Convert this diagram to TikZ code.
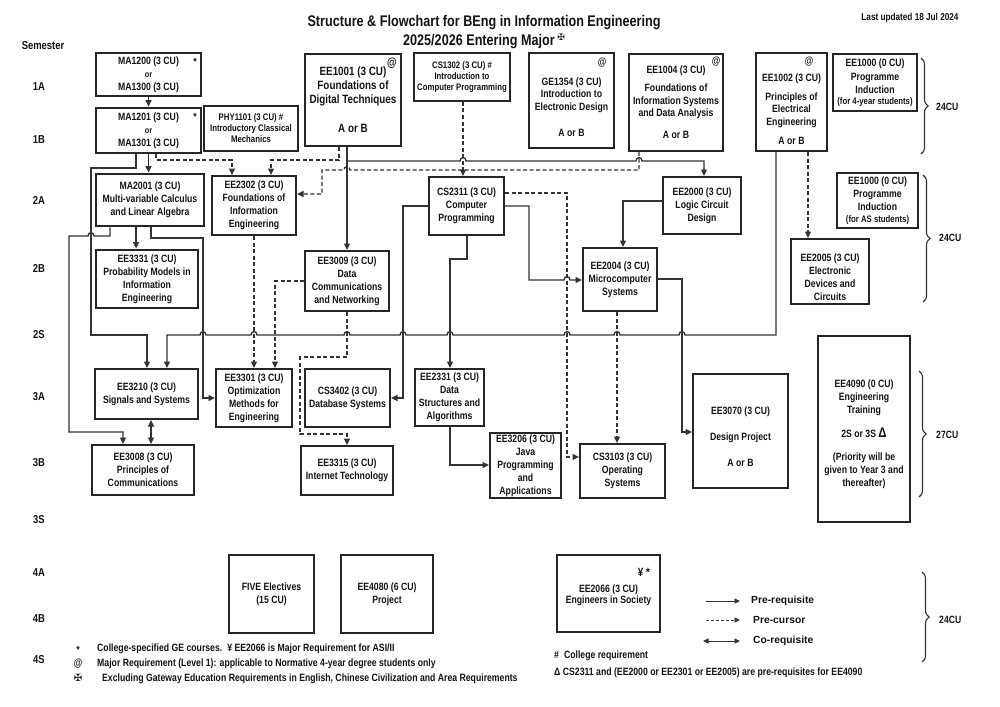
\documentclass[tikz,border=0pt]{standalone}
\usepackage{fontspec}
\setmainfont{Liberation Sans}[FakeStretch=0.82]
\newfontfamily\wfont{Liberation Sans}
\newfontfamily\dejafont{DejaVu Sans}
\usetikzlibrary{arrows.meta,decorations.pathreplacing}
\definecolor{boxc}{HTML}{262626}
\definecolor{linec}{HTML}{333333}
\definecolor{txtc}{HTML}{141414}
\newcommand\bxfont{\bfseries\fontsize{10.6}{13}\selectfont}
\newcommand\bigbx{\bfseries\fontsize{12}{14}\selectfont}
\newcommand\smfont{\bfseries\fontsize{9.5}{11}\selectfont}
\newcommand\orfont{\fontsize{8.8}{11}\selectfont}
\newcommand\semfont{\bfseries\fontsize{11.5}{13}\selectfont}
\newcommand\fnfont{\bfseries\fontsize{10.6}{13}\selectfont}
\newcommand\lgfont{\wfont\bfseries\fontsize{10.3}{12}\selectfont}
\newcommand\ttlfont{\bfseries\fontsize{15.4}{19}\selectfont}
\newcommand\updfont{\bfseries\fontsize{10}{12}\selectfont}
\newcommand\cufont{\bfseries\fontsize{10.5}{12}\selectfont}
\newcommand\mkbox[7][]{\node[bx,#1,minimum width={(#5-#3)*1pt},minimum height={(#6-#4)*1pt}] (#2) at ({(#3+#5)/2},{(#4+#6)/2}) {#7};}
\tikzset{
  bx/.style={draw=boxc, line width=2pt, inner sep=0pt, align=center, font=\bxfont, text=txtc},
  thk/.style={line width=2.8pt},
  ln/.style={draw=linec, line width=1.35pt},
  dsh/.style={dash pattern=on 4pt off 2.5pt},
  arr/.style={-{Triangle[length=6.5pt,width=6pt]}},
  darr/.style={{Triangle[length=6.5pt,width=6pt]}-{Triangle[length=6.5pt,width=6pt]}},
  sem/.style={font=\semfont, text=txtc, inner sep=0pt},
  mk/.style={font=\bxfont, text=txtc, inner sep=0pt},
  fn/.style={font=\fnfont, text=txtc, inner sep=0pt, anchor=west},
  lgl/.style={draw=linec, line width=0.9pt},
  lgarr/.style={-{Triangle[length=5.5pt,width=5pt]}},
  lgdarr/.style={{Triangle[length=5.5pt,width=5pt]}-{Triangle[length=5.5pt,width=5pt]}},
  lgt/.style={font=\lgfont, text=txtc, inner sep=0pt, anchor=west},
  brc/.style={draw=linec, line width=1.1pt, decorate, decoration={brace, amplitude=7pt}},
  cu/.style={font=\cufont, text=txtc, inner sep=0pt, anchor=west},
  hopR/.style args={#1/#2}{insert path={-- ({#1-3},#2) .. controls ({#1-3},{#2-4.5}) and ({#1+3},{#2-4.5}) .. ({#1+3},#2)}},
  hopL/.style args={#1/#2}{insert path={-- ({#1+3},#2) .. controls ({#1+3},{#2-4.5}) and ({#1-3},{#2-4.5}) .. ({#1-3},#2)}},
}
\begin{document}
\begin{tikzpicture}[x=1pt,y=-1pt]
\useasboundingbox (0,0) rectangle (1000,706);
\fill[white] (0,0) rectangle (1000,706);

% title
\node[font=\ttlfont, text=txtc, align=center, inner sep=0pt] (title) at (484,32)
  {Structure \& Flowchart for BEng in Information Engineering\\2025/2026 Entering Major\,\raisebox{5pt}{\dejafont\fontsize{9}{9}\selectfont ✠}};
\node[font=\updfont, text=txtc, inner sep=0pt] (upd) at (910,18) {Last updated 18 Jul 2024};

% semester labels
\node[sem] (semh) at (43,46) {Semester};
\node[sem] (s1a) at (39,87) {1A};
\node[sem] (s1b) at (39,140) {1B};
\node[sem] (s2a) at (39,200) {2A};
\node[sem] (s2b) at (39,268) {2B};
\node[sem] (s2s) at (39,335) {2S};
\node[sem] (s3a) at (39,397) {3A};
\node[sem] (s3b) at (39,463) {3B};
\node[sem] (s3s) at (39,520) {3S};
\node[sem] (s4a) at (39,573) {4A};
\node[sem] (s4b) at (39,619) {4B};
\node[sem] (s4s) at (39,660) {4S};

% boxes row 1
\mkbox{ma1200}{96}{53}{201}{96}{MA1200 (3 CU)\\{\orfont or}\\MA1300 (3 CU)}
\mkbox[thk]{ma1201}{96}{108}{201}{153}{MA1201 (3 CU)\\{\orfont or}\\MA1301 (3 CU)}
\mkbox[font=\smfont]{phy1101}{204}{106}{298}{151}{PHY1101 (3 CU) \#\\Introductory Classical\\Mechanics}
\mkbox[font=\bigbx]{ee1001}{305}{54}{401}{146}{EE1001 (3 CU)\\Foundations of\\Digital Techniques\\[15pt]A or B}
\mkbox[font=\smfont]{cs1302}{414}{53}{510}{101}{CS1302 (3 CU) \#\\Introduction to\\Computer Programming}
\mkbox{ge1354}{529}{53}{614}{148}{\rule{0pt}{22pt}GE1354 (3 CU)\\[-1pt]Introduction to\\Electronic Design\\[13pt]A or B}
\mkbox{ee1004}{629}{54}{723}{151}{EE1004 (3 CU)\\[5pt]Foundations of\\[-0.5pt]Information Systems\\[-0.5pt]and Data Analysis\\[9pt]A or B}
\mkbox{ee1002}{756}{53}{827}{151}{\rule{0pt}{22pt}EE1002 (3 CU)\\[6pt]Principles of\\[-0.5pt]Electrical\\[-0.5pt]Engineering\\[6pt]A or B}
\mkbox{ee1000a}{833}{54}{917}{111}{EE1000 (0 CU)\\[1pt]Programme\\Induction\\[-2pt]{\smfont (for 4-year students)}}

% marks
\node[mk] (ma1200s) at (195,62) {*};
\node[mk] (ma1201s) at (195,117) {*};
\node[mk,font=\bigbx] (ee1001s) at (392,63) {@};
\node[mk] (ge1354s) at (602,63) {@};
\node[mk] (ee1004s) at (716,62) {@};
\node[mk] (ee1002s) at (809,62) {@};

% row 2A
\mkbox[thk]{ma2001}{96}{174}{204}{226}{MA2001 (3 CU)\\Multi-variable Calculus\\and Linear Algebra}
\mkbox{ee2302}{212}{176}{296}{235}{EE2302 (3 CU)\\Foundations of\\Information\\Engineering}
\mkbox{cs2311}{429}{177}{504}{235}{CS2311 (3 CU)\\Computer\\Programming}
\mkbox{ee2000}{663}{177}{741}{234}{EE2000 (3 CU)\\Logic Circuit\\Design}
\mkbox{ee1000b}{837}{173}{918}{228}{EE1000 (0 CU)\\Programme\\Induction\\[-1pt]{\smfont (for AS students)}}

% row 2B
\mkbox[thk]{ee3331}{96}{250}{198}{308}{EE3331 (3 CU)\\Probability Models in\\Information\\Engineering}
\mkbox{ee3009}{305}{251}{389}{311}{EE3009 (3 CU)\\Data\\Communications\\and Networking}
\mkbox{ee2004}{583}{248}{657}{311}{EE2004 (3 CU)\\Microcomputer\\Systems}
\mkbox{ee2005}{791}{239}{869}{304}{\rule{0pt}{19pt}EE2005 (3 CU)\\Electronic\\Devices and\\Circuits}

% row 3A
\mkbox{ee3210}{95}{369}{198}{419}{EE3210 (3 CU)\\Signals and Systems}
\mkbox{ee3301}{216}{369}{292}{427}{EE3301 (3 CU)\\Optimization\\Methods for\\Engineering}
\mkbox{cs3402}{305}{369}{390}{427}{CS3402 (3 CU)\\Database Systems}
\mkbox{ee2331}{415}{369}{484}{426}{EE2331 (3 CU)\\Data\\Structures and\\Algorithms}
\mkbox{ee3070}{693}{374}{788}{488}{\rule{0pt}{19pt}EE3070 (3 CU)\\[13pt]Design Project\\[13pt]A or B}
\mkbox{ee4090}{818}{336}{910}{522}{\rule{0pt}{18pt}EE4090 (0 CU)\\Engineering\\Training\\[11pt]2S or 3S {\fontsize{14}{14}\selectfont Δ}\\[10pt](Priority will be\\given to Year 3 and\\thereafter)}

% row 3B
\mkbox{ee3008}{92}{445}{194}{495}{EE3008 (3 CU)\\Principles of\\Communications}
\mkbox{ee3315}{301}{446}{393}{495}{EE3315 (3 CU)\\Internet Technology}
\mkbox{ee3206}{490}{433}{561}{498}{EE3206 (3 CU)\\Java\\Programming\\and\\Applications}
\mkbox{cs3103}{580}{444}{665}{498}{CS3103 (3 CU)\\Operating\\Systems}

% row 4
\mkbox{five}{229}{555}{314}{633}{FIVE Electives\\(15 CU)}
\mkbox{ee4080}{341}{555}{433}{633}{EE4080 (6 CU)\\Project}
\mkbox{ee2066}{557}{555}{660}{632}{\rule{0pt}{12pt}EE2066 (3 CU)\\[-2pt]Engineers in Society}
\node[mk,font=\bigbx] (ee2066s) at (644,572) {¥ *};

% connectors
\draw[ln,arr] (ma1200.south -| 148.5,0) -- (ma1201.north -| 148.5,0);
\draw[ln,arr] (ma1201.south -| 148.5,0) -- (ma2001.north -| 148.5,0);
\draw[ln,arr] (ma1201.south -| 136,0) -- (136,168) -- (91,168) -- (91,335) -- (147,335) -- (ee3210.north -| 147,0);
\draw[ln,arr] (ma2001.south -| 110,0) -- (110,236) [hopL=91/236] -- (69,236) -- (69,432) -- (123,432) -- (ee3008.north -| 123,0);
\draw[ln,arr] (ma2001.south -| 136,0) -- (ee3331.north -| 136,0);
\draw[ln,arr] (ma2001.south -| 151,0) -- (151,238) -- (203,238) -- (ee3301.west -| 203,0) -- (ee3301.west);
\draw[ln,dsh,arr] (ma1201.south -| 156,0) -- (156,160) -- (232,160) -- (ee2302.north -| 232,0);
\draw[ln,dsh,arr] (ee1001.south -| 339,0) -- (339,160) -- (271,160) -- (ee2302.north -| 271,0);
\draw[ln,arr] (ee1001.south -| 347,0) -- (347,161) [hopR=463/161] [hopR=639/161] -- (704,161) -- (ee2000.north -| 704,0);
\draw[ln,arr] (ee1001.south -| 347,0) -- (ee3009.north -| 347,0);
\draw[ln,dsh,arr] (ee1004.south -| 639,0) -- (639,170) [hopL=347/170] -- (322,170) -- (322,194) -- (ee2302.east |- 0,194);
\draw[ln,dsh,arr] (cs1302.south -| 463,0) -- (cs2311.north -| 463,0);
\draw[ln,dsh,arr] (cs2311.east |- 0,193) -- (567,193) -- (567,457) -- (cs3103.west |- 0,457);
\draw[ln,arr] (cs2311.east |- 0,206) -- (529,206) -- (529,280) [hopR=567/280] -- (ee2004.west |- 0,280);
\draw[ln,arr] (cs2311.west |- 0,206) -- (403,206) -- (403,398) -- (cs3402.east |- 0,398);
\draw[ln,arr] (cs2311.south -| 467,0) -- (467,259) -- (450,259) -- (ee2331.north -| 450,0);
\draw[ln,arr] (ee2000.west |- 0,201) -- (623,201) -- (ee2004.north -| 623,0);
\draw[ln,arr] (ee2004.east |- 0,279) -- (682,279) -- (682,432) -- (ee3070.west |- 0,432);
\draw[ln,dsh,arr] (ee2004.south -| 617,0) -- (cs3103.north -| 617,0);
\draw[ln,arr] (ee1002.south -| 776,0) -- (776,335) [hopL=682/335] [hopL=617/335] [hopL=567/335] [hopL=450/335] [hopL=403/335] [hopL=347/335] [hopL=254/335] [hopL=203/335] -- (167,335) -- (ee3210.north -| 167,0);
\draw[ln,dsh,arr] (ee1002.south -| 808,0) -- (ee2005.north -| 808,0);
\draw[ln,dsh,arr] (ee2302.south -| 254,0) -- (ee3301.north -| 254,0);
\draw[ln,dsh,arr] (ee3009.west |- 0,281) -- (275,281) -- (ee3301.north -| 275,0);
\draw[ln,dsh,arr] (ee3009.south -| 347,0) -- (347,357) -- (300,357) -- (300,434) -- (347,434) -- (ee3315.north -| 347,0);
\draw[ln,arr] (ee2331.south -| 450,0) -- (450,465) -- (ee3206.west |- 0,465);
\draw[ln,darr] (ee3210.south -| 151,0) -- (ee3008.north -| 151,0);

% braces
\draw[brc] (921,58) -- (921,154);
\node[cu] (cu1) at (936,107) {24CU};
\draw[brc] (923,175) -- (923,302);
\node[cu] (cu2) at (939,238) {24CU};
\draw[brc] (919,371) -- (919,497);
\node[cu] (cu3) at (936,435) {27CU};
\draw[brc] (922,572) -- (922,662);
\node[cu] (cu4) at (939,620) {24CU};

% legend
\coordinate (lg1a) at (706,601); \coordinate (lg1b) at (740,601);
\coordinate (lg2a) at (706,620); \coordinate (lg2b) at (740,620);
\coordinate (lg3a) at (703,641); \coordinate (lg3b) at (740,641);
\draw[lgl,lgarr] (lg1a) -- (lg1b);
\draw[lgl,lgarr,dash pattern=on 3pt off 2pt] (lg2a) -- (lg2b);
\draw[lgl,lgdarr] (lg3a) -- (lg3b);
\node[lgt] (lgt1) at (751,601) {Pre-requisite};
\node[lgt] (lgt2) at (753,620) {Pre-cursor};
\node[lgt] (lgt3) at (753,641) {Co-requisite};

% footnotes
\node[mk,font=\fnfont] (fn1m) at (78,650) {*};
\node[fn] (fn1) at (97,649) {College-specified GE courses.\hspace{5pt}¥ EE2066 is Major Requirement for ASI/II};
\node[mk,font=\fnfont] (fn2m) at (78,664) {@};
\node[fn] (fn2) at (97,664) {Major Requirement (Level 1): applicable to Normative 4-year degree students only};
\node[mk] (fn3m) at (78,678) {\dejafont\fontsize{10}{10}\selectfont ✠};
\node[fn] (fn3) at (102,679) {Excluding Gateway Education Requirements in English, Chinese Civilization and Area Requirements};
\node[fn] (fn4) at (554,656) {\#\hspace{5pt}College requirement};
\node[fn] (fn5) at (554,673) {Δ CS2311 and (EE2000 or EE2301 or EE2005) are pre-requisites for EE4090};
\end{tikzpicture}
\end{document}
